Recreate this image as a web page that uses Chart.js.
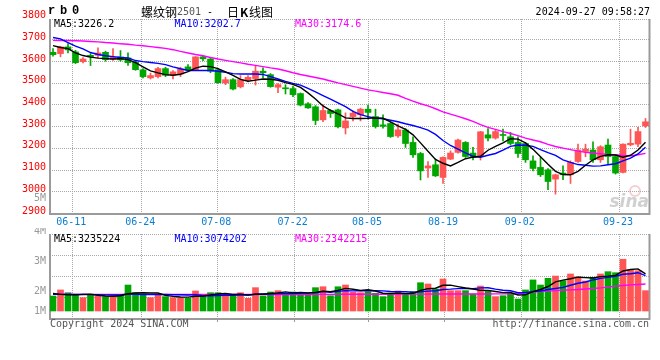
<!DOCTYPE html>
<html lang="zh-CN">
<head>
<meta charset="utf-8">
<title>螺纹钢2501 日K线图</title>
<script src="https://cdn.jsdelivr.net/npm/chart.js@4.4.1/dist/chart.umd.min.js"></script>
<style>
    html, body { margin: 0; padding: 0; background: #ffffff; }
    .board { position: relative; width: 660px; height: 360px; overflow: hidden; }
    .board canvas { position: absolute; left: 0; }
    #klineChart { top: 0; }
    #volumeChart { top: 228px; }
</style>
</head>
<body>
<div class="board">
    <canvas id="klineChart" width="660" height="228"></canvas>
    <canvas id="volumeChart" width="660" height="132"></canvas>
</div>
<script>
// Date ticks (position in candle units) and their labels
const dateLabels = ['06-11', '06-24', '07-08', '07-22', '08-05', '08-19', '09-02', '09-23'];
const datePositions = [2.57, 11.77, 21.91, 32.09, 42.0, 52.13, 62.36, 75.47];

// Price axis labels
const priceTicks = [2900, 3000, 3100, 3200, 3300, 3400, 3500, 3600, 3700, 3800];

// Daily OHLC
const openPrices = [
    3640, 3634, 3665, 3642, 3597, 3626, 3626, 3640, 3608, 3619,
    3614, 3594, 3559, 3522, 3528, 3565, 3534, 3540, 3573, 3557,
    3619, 3609, 3560, 3499, 3514, 3481, 3513, 3519, 3553, 3537,
    3479, 3476, 3473, 3450, 3403, 3389, 3329, 3372, 3375, 3292,
    3344, 3352, 3378, 3344, 3306, 3312, 3255, 3282, 3225, 3174,
    3107, 3122, 3064, 3148, 3179, 3225, 3176, 3160, 3260, 3245,
    3260, 3251, 3225, 3220, 3140, 3110, 3099, 3056, 3084, 3076,
    3137, 3183, 3190, 3145, 3213, 3160, 3087, 3214, 3217, 3301
];
const closePrices = [
    3629, 3665, 3651, 3592, 3609, 3619, 3637, 3606, 3617, 3605,
    3592, 3560, 3528, 3533, 3565, 3534, 3550, 3563, 3559, 3619,
    3610, 3553, 3500, 3514, 3471, 3514, 3525, 3553, 3546, 3482,
    3491, 3472, 3445, 3397, 3384, 3326, 3372, 3358, 3297, 3324,
    3360, 3378, 3363, 3298, 3299, 3252, 3283, 3220, 3168, 3094,
    3117, 3071, 3156, 3176, 3236, 3160, 3157, 3274, 3245, 3275,
    3257, 3220, 3174, 3145, 3105, 3076, 3045, 3076, 3076, 3133,
    3190, 3194, 3145, 3205, 3160, 3084, 3217, 3221, 3275, 3320
];
const highPrices = [
    3657, 3668, 3680, 3649, 3616, 3634, 3660, 3645, 3657, 3648,
    3637, 3602, 3565, 3544, 3571, 3571, 3556, 3571, 3583, 3620,
    3626, 3614, 3565, 3525, 3519, 3533, 3533, 3580, 3568, 3542,
    3496, 3491, 3484, 3453, 3409, 3395, 3399, 3376, 3378, 3361,
    3370, 3383, 3397, 3378, 3352, 3317, 3309, 3289, 3251, 3179,
    3137, 3148, 3159, 3186, 3240, 3229, 3202, 3276, 3289, 3285,
    3286, 3271, 3251, 3225, 3163, 3156, 3105, 3079, 3117, 3140,
    3217, 3217, 3228, 3210, 3240, 3166, 3219, 3286, 3294, 3335
];
const lowPrices = [
    3622, 3619, 3637, 3588, 3591, 3579, 3614, 3599, 3603, 3599,
    3579, 3557, 3522, 3517, 3522, 3528, 3517, 3528, 3553, 3556,
    3602, 3546, 3498, 3491, 3467, 3476, 3504, 3489, 3522, 3479,
    3454, 3448, 3436, 3393, 3381, 3307, 3320, 3340, 3292, 3264,
    3324, 3324, 3332, 3291, 3291, 3248, 3248, 3202, 3156, 3052,
    3064, 3068, 3036, 3146, 3176, 3156, 3144, 3144, 3232, 3240,
    3232, 3213, 3156, 3133, 3094, 3068, 3007, 2987, 3053, 3036,
    3133, 3159, 3133, 3133, 3125, 3079, 3084, 3209, 3206, 3294
];

// Price moving averages
const ma5Prices = [
    3671, 3662, 3657, 3637, 3625, 3618, 3613, 3611, 3609, 3611,
    3606, 3592, 3573, 3554, 3545, 3537, 3534, 3539, 3551, 3567,
    3576, 3574, 3565, 3550, 3534, 3515, 3507, 3512, 3517, 3516,
    3511, 3500, 3492, 3478, 3453, 3425, 3393, 3373, 3357, 3338,
    3335, 3335, 3336, 3338, 3336, 3320, 3301, 3285, 3260, 3223,
    3184, 3147, 3129, 3117, 3133, 3150, 3157, 3161, 3189, 3207,
    3223, 3242, 3240, 3223, 3193, 3159, 3124, 3092, 3077, 3076,
    3092, 3120, 3145, 3161, 3168, 3167, 3157, 3166, 3190, 3226.2
];
const ma10Prices = [
    3708, 3702, 3685, 3668, 3656, 3639, 3630, 3624, 3620, 3616,
    3614, 3602, 3597, 3593, 3589, 3583, 3573, 3564, 3556, 3556,
    3556, 3556, 3553, 3548, 3542, 3540, 3540, 3540, 3538, 3528,
    3517, 3506, 3497, 3489, 3474, 3458, 3441, 3424, 3407, 3390,
    3368, 3353, 3344, 3337, 3334, 3327, 3320, 3311, 3303, 3293,
    3282, 3262, 3234, 3211, 3194, 3177, 3161, 3157, 3166, 3174,
    3189, 3207, 3213, 3212, 3207, 3192, 3178, 3165, 3145, 3133,
    3123, 3120, 3116, 3117, 3122, 3127, 3140, 3153, 3172, 3202.7
];
const ma30Prices = [
    3695, 3694, 3694, 3693, 3692, 3690, 3688, 3685, 3683, 3679,
    3677, 3673, 3670, 3666, 3662, 3658, 3652, 3644, 3637, 3630,
    3624, 3616, 3609, 3603, 3597, 3591, 3585, 3580, 3574, 3568,
    3563, 3555, 3546, 3538, 3531, 3524, 3517, 3508, 3499, 3491,
    3483, 3475, 3467, 3461, 3455, 3449, 3442, 3428, 3415, 3403,
    3393, 3380, 3366, 3355, 3345, 3334, 3322, 3307, 3294, 3285,
    3275, 3266, 3256, 3245, 3236, 3228, 3216, 3206, 3199, 3192,
    3185, 3179, 3176, 3173, 3170, 3168, 3165, 3163, 3168, 3174.6
];

// Volume and its moving averages
const volumes = [
    1300000, 1830000, 1590000, 1390000, 1160000, 1390000, 1300000, 1250000, 1300000, 1390000,
    2260000, 1590000, 1390000, 1160000, 1390000, 1250000, 1160000, 1160000, 1100000, 1740000,
    1390000, 1590000, 1590000, 1300000, 1300000, 1590000, 1100000, 2030000, 1300000, 1650000,
    1770000, 1540000, 1650000, 1480000, 1390000, 2030000, 2110000, 1330000, 2110000, 2260000,
    1630000, 1590000, 1680000, 1540000, 1250000, 1540000, 1740000, 1480000, 1680000, 2460000,
    2350000, 1910000, 2780000, 1770000, 1770000, 1770000, 1480000, 2170000, 1770000, 1250000,
    1330000, 1540000, 1040000, 1830000, 2700000, 2260000, 2840000, 3040000, 2630000, 3220000,
    2980000, 2610000, 2930000, 3220000, 3420000, 3330000, 4500000, 3570000, 3500000, 1770000
];
const ma5Volumes = [
    1520000, 1450000, 1400000, 1400000, 1450000, 1470000, 1370000, 1300000, 1280000, 1330000,
    1500000, 1560000, 1590000, 1560000, 1560000, 1360000, 1270000, 1220000, 1210000, 1280000,
    1310000, 1400000, 1480000, 1520000, 1430000, 1470000, 1380000, 1460000, 1460000, 1530000,
    1570000, 1660000, 1580000, 1620000, 1570000, 1620000, 1730000, 1670000, 1790000, 1970000,
    1890000, 1780000, 1850000, 1740000, 1540000, 1520000, 1550000, 1510000, 1540000, 1780000,
    1940000, 1980000, 2240000, 2250000, 2120000, 2000000, 1910000, 1790000, 1790000, 1690000,
    1600000, 1610000, 1390000, 1400000, 1690000, 1870000, 2130000, 2530000, 2690000, 2800000,
    2940000, 2900000, 2870000, 2990000, 3030000, 3100000, 3480000, 3610000, 3660000, 3235224
];
const ma10Volumes = [
    1460000, 1450000, 1450000, 1440000, 1430000, 1420000, 1410000, 1400000, 1390000, 1390000,
    1490000, 1460000, 1440000, 1420000, 1440000, 1430000, 1410000, 1410000, 1390000, 1420000,
    1330000, 1330000, 1350000, 1370000, 1360000, 1390000, 1390000, 1470000, 1490000, 1480000,
    1520000, 1520000, 1520000, 1540000, 1550000, 1590000, 1700000, 1630000, 1710000, 1770000,
    1750000, 1760000, 1760000, 1770000, 1750000, 1700000, 1670000, 1680000, 1640000, 1660000,
    1730000, 1760000, 1870000, 1900000, 1950000, 1970000, 1950000, 2010000, 2020000, 1900000,
    1800000, 1760000, 1590000, 1600000, 1690000, 1740000, 1870000, 1960000, 2050000, 2240000,
    2410000, 2520000, 2700000, 2840000, 2920000, 3020000, 3190000, 3240000, 3330000, 3074202
];
const ma30Volumes = [
    1460000, 1460000, 1460000, 1450000, 1450000, 1450000, 1450000, 1450000, 1450000, 1450000,
    1450000, 1450000, 1450000, 1450000, 1450000, 1450000, 1440000, 1440000, 1440000, 1440000,
    1440000, 1440000, 1440000, 1440000, 1440000, 1440000, 1440000, 1440000, 1440000, 1430000,
    1440000, 1440000, 1440000, 1440000, 1440000, 1450000, 1450000, 1450000, 1460000, 1460000,
    1460000, 1460000, 1460000, 1460000, 1460000, 1460000, 1460000, 1470000, 1470000, 1470000,
    1470000, 1480000, 1480000, 1480000, 1480000, 1480000, 1480000, 1480000, 1480000, 1490000,
    1490000, 1490000, 1500000, 1580000, 1650000, 1690000, 1730000, 1770000, 1810000, 1840000,
    1870000, 1910000, 1960000, 2010000, 2080000, 2160000, 2220000, 2270000, 2310000, 2342215
];

// Colours and fonts
const UP_COLOR = '#ff5555';
const DOWN_COLOR = '#00a600';
const GRID_COLOR = '#a8a8a8';
const FRAME_COLOR = '#9a9a9a';
const MONO = '10px "DejaVu Sans Mono"';

const candleIndex = closePrices.map((_, i) => i);
const candleColors = closePrices.map((c, i) => (c >= openPrices[i] ? UP_COLOR : DOWN_COLOR));
const xRange = { min: -0.4, max: 79.6 };

// Draw a straight line
function strokeLine(ctx, x1, y1, x2, y2) {
    ctx.beginPath();
    ctx.moveTo(x1, y1);
    ctx.lineTo(x2, y2);
    ctx.stroke();
}

// Grid, frame and date lines shared by both panes
function drawPaneGrid(ctx, area, xScale, rows) {
    ctx.save();
    ctx.strokeStyle = GRID_COLOR;
    ctx.lineWidth = 1;
    ctx.setLineDash([1, 1]);
    rows.forEach(py => {
        const y = Math.round(py) + 0.5;
        strokeLine(ctx, area.left, y, area.right, y);
    });
    strokeLine(ctx, area.left, area.top + 0.5, area.right, area.top + 0.5);
    datePositions.forEach(v => {
        const x = Math.round(xScale.getPixelForValue(v)) + 0.5;
        strokeLine(ctx, x, area.top, x, area.bottom);
    });
    ctx.setLineDash([]);
    ctx.strokeStyle = FRAME_COLOR;
    ctx.lineWidth = 2;
    strokeLine(ctx, area.left, area.top, area.left, area.bottom + 2);
    strokeLine(ctx, area.left, area.bottom + 1, area.right, area.bottom + 1);
    strokeLine(ctx, area.right - 0.5, area.top, area.right - 0.5, area.bottom + 2);
    ctx.restore();
}

// Legend row "MA5:... MA10:... MA30:..."
function drawLegendRow(ctx, area, items) {
    ctx.save();
    ctx.font = MONO;
    ctx.textAlign = 'left';
    ctx.textBaseline = 'middle';
    items.forEach((item, k) => {
        ctx.fillStyle = item.color;
        ctx.fillText(item.text, area.left + 4 + k * 120.5, area.top + 5);
    });
    ctx.restore();
}

const klineDecor = {
    id: 'klineDecor',
    beforeDatasetsDraw(chart) {
        const { ctx, chartArea: area, scales: { x, y } } = chart;
        const rows = priceTicks
            .filter(v => v > y.min && v < y.max)
            .map(v => y.getPixelForValue(v));
        drawPaneGrid(ctx, area, x, rows);

        // watermark
        ctx.save();
        ctx.strokeStyle = 'rgba(230, 150, 150, 0.45)';
        ctx.lineWidth = 2;
        ctx.beginPath();
        ctx.arc(area.right - 15, area.bottom - 22, 5, 0, Math.PI * 2);
        ctx.stroke();
        ctx.fillStyle = 'rgba(170, 170, 170, 0.55)';
        ctx.font = 'italic bold 17px "DejaVu Sans"';
        ctx.textAlign = 'right';
        ctx.textBaseline = 'alphabetic';
        ctx.fillText('sina', area.right - 1, area.bottom - 6);
        ctx.restore();
    },
    afterDraw(chart) {
        const { ctx, chartArea: area, scales: { x, y } } = chart;
        ctx.save();
        ctx.textBaseline = 'middle';

        // price labels
        ctx.font = MONO;
        ctx.textAlign = 'right';
        ctx.fillStyle = '#ff0000';
        priceTicks.forEach(v => ctx.fillText(String(v), area.left - 4, y.getPixelForValue(v) - 2));
        ctx.fillStyle = '#999999';
        ctx.fillText('5M', area.left - 4, area.bottom - 15);

        // date labels
        ctx.textAlign = 'center';
        ctx.fillStyle = '#0a7fd2';
        datePositions.forEach((v, k) => ctx.fillText(dateLabels[k], x.getPixelForValue(v) - 1, area.bottom + 9));

        // title row
        ctx.textAlign = 'left';
        ctx.fillStyle = '#000000';
        ctx.font = 'bold 12px "Liberation Mono"';
        ['r', 'b', '0'].forEach((ch, k) => ctx.fillText(ch, 48 + k * 12, 11));
        let tx = 141;
        ctx.font = '12px "Noto Sans CJK SC"';
        ctx.fillText('螺纹钢', tx, 12);
        tx += ctx.measureText('螺纹钢').width;
        ctx.font = MONO;
        ctx.fillStyle = '#555555';
        ctx.fillText('2501', tx, 12);
        ctx.fillStyle = '#000000';
        ctx.fillText('-', 207, 12);
        ctx.font = '12px "Noto Sans CJK SC"';
        ctx.fillText('日', 227, 12);
        ctx.font = 'bold 12px "Noto Sans CJK SC"';
        ctx.fillText('K', 240, 12);
        ctx.font = '12px "Noto Sans CJK SC"';
        ctx.fillText('线图', 249, 12);
        ctx.font = MONO;
        ctx.textAlign = 'right';
        ctx.fillText('2024-09-27 09:58:27', area.right, 12);
        ctx.restore();

        const last = closePrices.length - 1;
        drawLegendRow(ctx, area, [
            { text: 'MA5:' + ma5Prices[last].toFixed(1), color: '#000000' },
            { text: 'MA10:' + ma10Prices[last].toFixed(1), color: '#0000ff' },
            { text: 'MA30:' + ma30Prices[last].toFixed(1), color: '#ff00ff' }
        ]);
    }
};

const volumeDecor = {
    id: 'volumeDecor',
    beforeDatasetsDraw(chart) {
        const { ctx, chartArea: area, scales: { x } } = chart;
        const step = (area.bottom - area.top) / 4;
        drawPaneGrid(ctx, area, x, [1, 2, 3].map(k => area.top + k * step));
        ctx.save();
        ctx.strokeStyle = FRAME_COLOR;
        ctx.lineWidth = 1;
        datePositions.forEach(v => {
            const px = Math.round(x.getPixelForValue(v)) + 0.5;
            strokeLine(ctx, px, area.bottom + 1, px, area.bottom + 4);
        });
        ctx.restore();
    },
    afterDraw(chart) {
        const { ctx, chartArea: area } = chart;
        ctx.save();
        ctx.font = MONO;
        ctx.textBaseline = 'middle';
        ctx.textAlign = 'right';
        ctx.fillStyle = '#999999';
        [['4M', -3], ['3M', 27], ['2M', 57], ['1M', 77]].forEach(([t, dy]) => ctx.fillText(t, area.left - 4, area.top + dy));
        ctx.fillStyle = '#555555';
        ctx.fillText('http://finance.sina.com.cn', area.right - 1, area.bottom + 6);
        ctx.textAlign = 'left';
        ctx.fillText('Copyright 2024 SINA.COM', area.left, area.bottom + 6);
        ctx.restore();

        const last = volumes.length - 1;
        drawLegendRow(ctx, area, [
            { text: 'MA5:' + Math.round(ma5Volumes[last]), color: '#000000' },
            { text: 'MA10:' + Math.round(ma10Volumes[last]), color: '#0000ff' },
            { text: 'MA30:' + Math.round(ma30Volumes[last]), color: '#ff00ff' }
        ]);
    }
};

function maLine(label, values, color) {
    return {
        type: 'line',
        label: label,
        data: candleIndex.map(i => ({ x: i, y: values[i] })),
        borderColor: color,
        borderWidth: 1.4,
        pointRadius: 0,
        tension: 0,
        order: 0
    };
}

const baseOptions = (padding, yMin, yMax) => ({
    responsive: false,
    animation: false,
    events: [],
    layout: { padding: padding },
    plugins: { legend: { display: false }, tooltip: { enabled: false } },
    scales: {
        x: { type: 'linear', min: xRange.min, max: xRange.max, offset: false, display: false },
        y: { type: 'linear', min: yMin, max: yMax, display: false }
    }
});

// Price pane: chart area 50..650 x 19..213
new Chart(document.getElementById('klineChart'), {
    type: 'bar',
    data: {
        datasets: [
            maLine('MA5', ma5Prices, '#000000'),
            maLine('MA10', ma10Prices, '#0000ff'),
            maLine('MA30', ma30Prices, '#ff00ff'),
            {
                label: 'body',
                data: candleIndex.map(i => ({ x: i, y: [openPrices[i], closePrices[i]] })),
                backgroundColor: candleColors,
                barThickness: 6,
                minBarLength: 1,
                grouped: false,
                order: 1
            },
            {
                label: 'wick',
                data: candleIndex.map(i => ({ x: i, y: [lowPrices[i], highPrices[i]] })),
                backgroundColor: candleColors,
                barThickness: 1,
                grouped: false,
                order: 2
            }
        ]
    },
    options: baseOptions({ left: 50, right: 10, top: 19, bottom: 15 }, 2900, 3793.3),
    plugins: [klineDecor]
});

// Volume pane: chart area 50..650 x 234..318 (page), zero at 311
new Chart(document.getElementById('volumeChart'), {
    type: 'bar',
    data: {
        datasets: [
            maLine('MA5', ma5Volumes, '#000000'),
            maLine('MA10', ma10Volumes, '#0000ff'),
            maLine('MA30', ma30Volumes, '#ff00ff'),
            {
                label: 'volume',
                data: candleIndex.map(i => ({ x: i, y: volumes[i] })),
                backgroundColor: candleColors,
                barThickness: 6,
                grouped: false,
                order: 1
            }
        ]
    },
    options: baseOptions({ left: 50, right: 10, top: 6, bottom: 42 }, -608700, 6695700),
    plugins: [volumeDecor]
});
</script>
</body>
</html>
